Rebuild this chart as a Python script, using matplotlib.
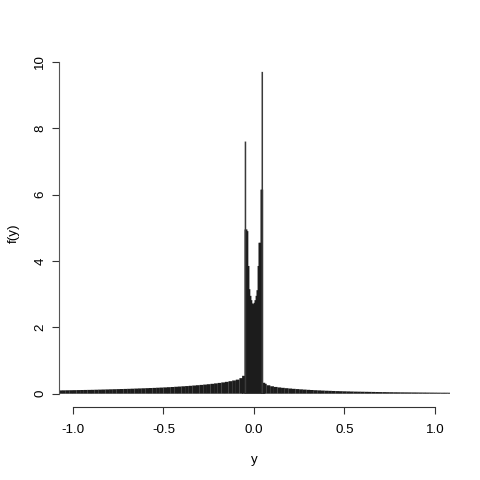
import matplotlib
matplotlib.use("Agg")
import matplotlib.pyplot as plt

# left tail (y < 0)
left_y = [-1.07, -1.05, -1.03, -1.01, -0.99, -0.97, -0.95, -0.93, -0.91, -0.89,
          -0.87, -0.85, -0.83, -0.81, -0.79, -0.77, -0.75, -0.73, -0.71, -0.69,
          -0.67, -0.65, -0.63, -0.61, -0.59, -0.57, -0.55, -0.53, -0.51, -0.49,
          -0.47, -0.45, -0.43, -0.41, -0.39, -0.37, -0.35, -0.33, -0.31, -0.29,
          -0.27, -0.25, -0.23, -0.21, -0.19, -0.17, -0.15, -0.13, -0.11, -0.09,
          -0.07, -0.055]
left_f = [0.100, 0.102, 0.104, 0.106, 0.108, 0.110, 0.112, 0.114, 0.116, 0.118,
          0.121, 0.124, 0.127, 0.130, 0.133, 0.136, 0.139, 0.142, 0.145, 0.148,
          0.152, 0.156, 0.160, 0.164, 0.168, 0.172, 0.176, 0.181, 0.186, 0.191,
          0.197, 0.203, 0.210, 0.217, 0.224, 0.231, 0.239, 0.248, 0.257, 0.266,
          0.276, 0.287, 0.299, 0.312, 0.326, 0.341, 0.358, 0.378, 0.400, 0.425,
          0.470, 0.540]

# centre part
mid_y = [-0.047, -0.041, -0.036, -0.030, -0.025, -0.019, -0.014, -0.008, -0.003,
         0.003, 0.008, 0.014, 0.019, 0.025, 0.030, 0.036, 0.041, 0.046]
mid_f = [4.95, 4.95, 4.90, 3.85, 3.15, 2.95, 2.82, 2.72, 2.70,
         2.74, 2.82, 2.95, 3.12, 3.85, 4.55, 4.55, 6.15, 6.15]

# the two spikes
spike_y = [-0.047, 0.046]
spike_f = [7.6, 9.7]

# right tail (y > 0)
right_y = [0.052, 0.06, 0.08, 0.10, 0.12, 0.14, 0.16, 0.18, 0.20, 0.22,
           0.24, 0.26, 0.28, 0.30, 0.32, 0.34, 0.36, 0.38, 0.40, 0.42,
           0.44, 0.46, 0.48, 0.50, 0.52, 0.54, 0.56, 0.58, 0.60, 0.62,
           0.64, 0.66, 0.68, 0.70, 0.72, 0.74, 0.76, 0.78, 0.80, 0.82,
           0.84, 0.86, 0.88, 0.90, 0.92, 0.94, 0.96, 0.98, 1.00, 1.02,
           1.04, 1.06, 1.08]
right_f = [0.330, 0.300, 0.255, 0.225, 0.205, 0.190, 0.178, 0.167, 0.157, 0.148,
           0.140, 0.132, 0.125, 0.118, 0.112, 0.106, 0.101, 0.096, 0.091, 0.087,
           0.083, 0.079, 0.076, 0.073, 0.070, 0.067, 0.064, 0.062, 0.060, 0.058,
           0.056, 0.054, 0.052, 0.050, 0.049, 0.047, 0.046, 0.044, 0.043, 0.042,
           0.041, 0.040, 0.039, 0.038, 0.037, 0.036, 0.035, 0.034, 0.033, 0.032,
           0.031, 0.031, 0.030]

x_ticks = [-1.0, -0.5, 0.0, 0.5, 1.0]
x_labels = ["-1.0", "-0.5", "0.0", "0.5", "1.0"]
y_ticks = [0, 2, 4, 6, 8, 10]

plt.rcParams['font.family'] = ['Liberation Sans', 'DejaVu Sans']

fig = plt.figure(figsize=(4.8, 4.8), dpi=100)
ax = fig.add_axes([59/480, (480-406.6)/480, (450-59)/480, (406.6-59)/480])

ax.vlines(left_y, 0, left_f, colors="#1c1c1c", linewidth=2.7, snap=False)
ax.vlines(right_y, 0, right_f, colors="#1c1c1c", linewidth=2.7, snap=False)
ax.vlines(mid_y, 0, mid_f, colors="#1c1c1c", linewidth=1.3, snap=False)
ax.vlines(spike_y, 0, spike_f, colors="#3a3a3a", linewidth=1.1, snap=False)

ax.set_xlim(-1.077, 1.083)
ax.set_ylim(-0.388, 10.088)

for side in ["top", "right"]:
    ax.spines[side].set_visible(False)
ax.spines["left"].set_bounds(0, 10)
ax.spines["bottom"].set_bounds(-1, 1)
ax.spines["left"].set_color("#555555")
ax.spines["bottom"].set_color("#333333")
for sp in ["left", "bottom"]:
    ax.spines[sp].set_linewidth(0.8)

ax.set_xticks(x_ticks)
ax.set_xticklabels(x_labels)
ax.set_yticks(y_ticks)
ax.set_yticklabels([str(t) for t in y_ticks], rotation=90, va="center")
ax.tick_params(axis="both", direction="out", length=5.2, width=0.8,
               labelsize=9.6, colors="#333333", labelcolor="black")
ax.tick_params(axis="x", pad=7)
ax.tick_params(axis="y", pad=4)

ax.set_xlabel("y", fontsize=9.6, labelpad=13)
ax.set_ylabel("f(y)", fontsize=9.6, labelpad=10)

fig.savefig("out.png", dpi=100)
